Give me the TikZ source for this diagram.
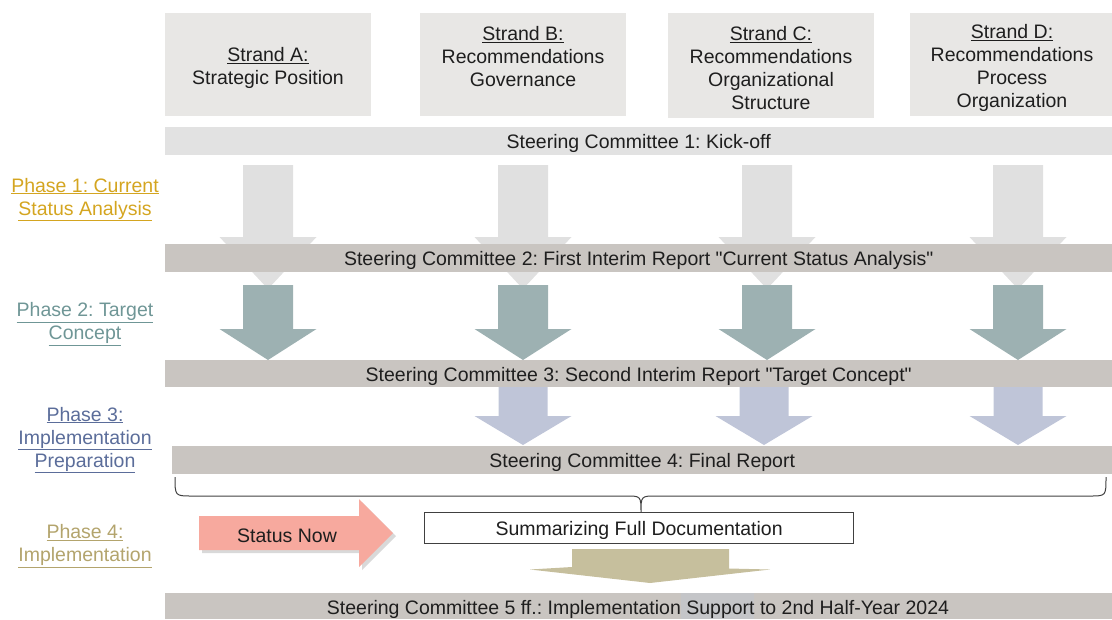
\documentclass[tikz,border=0pt]{standalone}
\usepackage{fontspec}
\setmainfont{Liberation Sans}
\usetikzlibrary{shadows}
\frenchspacing
\definecolor{strandfill}{HTML}{E8E7E5}
\definecolor{scone}{HTML}{E2E2E2}
\definecolor{scbar}{HTML}{C9C5C1}
\definecolor{arrowone}{HTML}{E0E0E0}
\definecolor{arrowtwo}{HTML}{9DB1B2}
\definecolor{arrowthree}{HTML}{BFC5D8}
\definecolor{statusfill}{HTML}{F7A99E}
\definecolor{implfill}{HTML}{C6BF9D}
\definecolor{phaseone}{HTML}{D4A520}
\definecolor{phasetwo}{HTML}{6F9696}
\definecolor{phasethree}{HTML}{5B6D9A}
\definecolor{phasefour}{HTML}{B3A46D}
\definecolor{txt}{HTML}{1E1E1E}
\definecolor{hilite}{HTML}{C4C5C8}
% colour, centre x, shaft half width, top, head start, head half width, tip
\newcommand\blkarrow[7]{%
  \fill[#1] ({#2-#3},#4) -- ({#2+#3},#4) -- ({#2+#3},#5) -- ({#2+#6},#5) -- (#2,#7)
    -- ({#2-#6},#5) -- ({#2-#3},#5) -- cycle;}
\begin{document}
\begin{tikzpicture}[x=1pt,y=-1pt,
  every node/.style={text=txt, font=\fontsize{19.5}{23}\selectfont\frenchspacing, align=center, inner sep=0pt},
  tx/.style={yshift=-2.5pt},
  inbox/.style={text height=15pt, text depth=0pt},
  strandbox/.style={fill=strandfill, minimum width=206pt, minimum height=103pt, anchor=north west},
  scbarbox/.style={fill=scbar, minimum height=28pt, anchor=north west, inbox}]
\useasboundingbox (0,0) rectangle (1112,619);

% strands
\node[strandbox] (bA) at (165,13) {};
\node[strandbox] (bB) at (420,13) {};
\node[strandbox, minimum height=105pt] (bC) at (668,13) {};
\node[strandbox, minimum width=202pt] (bD) at (910,13) {};
\node[tx] (tA) at (268,65.5) {\underline{Strand A:}\\Strategic Position};
\node[tx] (tB) at (523,54) {\underline{Strand B:}\\Recommendations\\Governance};
\node[tx] (tC) at (771,66) {\underline{Strand C:}\\Recommendations\\Organizational\\Structure};
\node[tx] (tD) at (1012,65.5) {\underline{Strand D:}\\Recommendations\\Process\\Organization};

% phase labels
\node[tx, text=phaseone] (p1) at (85,197) {\underline{Phase 1: Current}\\\underline{Status Analysis}};
\node[tx, text=phasetwo] (p2) at (85,321.5) {\underline{Phase 2: Target}\\\underline{Concept}};
\node[tx, text=phasethree] (p3) at (85,437.5) {\underline{Phase 3:}\\\underline{Implementation}\\\underline{Preparation}};
\node[tx, text=phasefour] (p4) at (85,543.5) {\underline{Phase 4:}\\\underline{Implementation}};

% steering committee 1
\node[fill=scone, minimum width=947pt, minimum height=28pt, anchor=north west, inbox] (sc1) at (165,127) {Steering Committee 1: Kick-off};

% phase 1 arrows
\foreach \cx in {268,523,767,1018} {\blkarrow{arrowone}{\cx}{25}{165}{237}{48.5}{289}}
\node[scbarbox, minimum width=947pt] (sc2) at (165,244) {Steering Committee 2: First Interim Report \textquotedbl Current Status Analysis\textquotedbl};

% phase 2 arrows
\foreach \cx in {268,523,767,1018} {\blkarrow{arrowtwo}{\cx}{25}{285}{329}{48.5}{360}}
\node[scbarbox, minimum width=947pt, minimum height=27pt] (sc3) at (165,360) {Steering Committee 3: Second Interim Report \textquotedbl Target Concept\textquotedbl};

% phase 3 arrows
\foreach \cx in {523,764,1018} {\blkarrow{arrowthree}{\cx}{24.5}{387}{416}{48.5}{445}}
\node[scbarbox, minimum width=940pt] (sc4) at (172,446) {Steering Committee 4: Final Report};

% brace
\draw[line width=1pt, txt!85, line join=round] (175,477) .. controls (175,496) .. (192,496) -- (626,496)
  .. controls (641,496) .. (641,513) .. controls (641,496) .. (656,496) -- (1090,496)
  .. controls (1106,496) .. (1106,477);

% status now arrow
\fill[statusfill, drop shadow={shadow xshift=3pt, shadow yshift=-3pt, opacity=0.3}]
  (199,516) -- (359,516) -- (359,499) -- (393,533) -- (359,567) -- (359,550) -- (199,550) -- cycle;
\node[tx] (status) at (287,533) {Status Now};

% summarizing box
\node[draw=txt!85, line width=1.2pt, fill=white, minimum width=429pt, minimum height=31pt, anchor=north west, inbox] (summ) at (424,512) {Summarizing Full Documentation};

% implementation arrow
\fill[implfill] (572,549) -- (729,549) -- (729,568.5) -- (770,569.5) -- (650,583) -- (530,569.5) -- (572,567) -- cycle;

% steering committee 5
\node[scbarbox, minimum width=947pt, minimum height=26pt] (sc5) at (165,593) {};
\fill[hilite] (681,593) rectangle (754,619);
\node[tx] (sc5t) at (638,606.5) {Steering Committee 5 ff.: Implementation Support to 2nd Half-Year 2024};
\end{tikzpicture}
\end{document}
